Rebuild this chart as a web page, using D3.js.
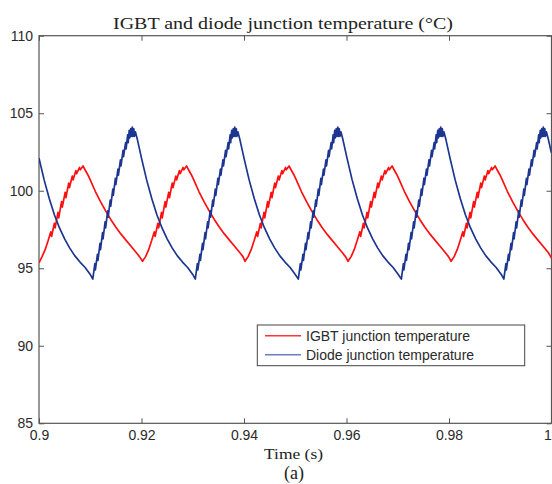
<!DOCTYPE html>
<html>
<head>
<meta charset="utf-8">
<script src="https://cdn.jsdelivr.net/npm/d3@7"></script>
<style>
  body { margin: 0; background: #fff; }
  #picture svg { display: block; }
</style>
</head>
<body>
<div id="picture"></div>
<script>
// values: [time (s), temperature (C)]
var igbtTemp = [
    [0.9000,95.35],[0.9006,95.75],[0.9012,96.2],[0.9018,96.8],[0.9023,97.35],[0.90245,97.05],[0.9030,97.9],[0.90315,97.6],[0.9037,98.6],[0.90385,98.25],[0.9044,99.3],[0.90455,98.95],[0.9051,99.9],[0.90525,99.55],[0.9058,100.5],[0.90595,100.2],[0.9065,100.95],[0.90665,100.7],[0.9072,101.3],[0.90735,101.1],[0.9079,101.5],[0.90805,101.35],[0.9086,101.6],[0.9089,101.4],[0.9095,101.05],[0.9100,100.7],[0.9110,99.95],[0.9120,99.3],[0.9130,98.7],[0.9140,98.15],[0.9150,97.65],[0.9160,97.2],[0.9170,96.8],[0.9180,96.4],[0.9190,96.0],[0.9196,95.75],
    [0.9202,95.45],[0.9208,95.75],[0.9214,96.2],[0.9220,96.8],[0.9225,97.35],[0.92265,97.05],[0.9232,97.9],[0.92335,97.6],[0.9239,98.6],[0.92405,98.25],[0.9246,99.3],[0.92475,98.95],[0.9253,99.9],[0.92545,99.55],[0.9260,100.5],[0.92615,100.2],[0.9267,100.95],[0.92685,100.7],[0.9274,101.3],[0.92755,101.1],[0.9281,101.5],[0.92825,101.35],[0.9288,101.6],[0.9291,101.4],[0.9297,101.05],[0.9302,100.7],[0.9312,99.95],[0.9322,99.3],[0.9332,98.7],[0.9342,98.15],[0.9352,97.65],[0.9362,97.2],[0.9372,96.8],[0.9382,96.4],[0.9392,96.0],[0.9398,95.75],
    [0.9402,95.45],[0.9408,95.75],[0.9414,96.2],[0.9420,96.8],[0.9425,97.35],[0.94265,97.05],[0.9432,97.9],[0.94335,97.6],[0.9439,98.6],[0.94405,98.25],[0.9446,99.3],[0.94475,98.95],[0.9453,99.9],[0.94545,99.55],[0.9460,100.5],[0.94615,100.2],[0.9467,100.95],[0.94685,100.7],[0.9474,101.3],[0.94755,101.1],[0.9481,101.5],[0.94825,101.35],[0.9488,101.6],[0.9491,101.4],[0.9497,101.05],[0.9502,100.7],[0.9512,99.95],[0.9522,99.3],[0.9532,98.7],[0.9542,98.15],[0.9552,97.65],[0.9562,97.2],[0.9572,96.8],[0.9582,96.4],[0.9592,96.0],[0.9598,95.75],
    [0.9603,95.45],[0.9609,95.75],[0.9615,96.2],[0.9621,96.8],[0.9626,97.35],[0.96275,97.05],[0.9633,97.9],[0.96345,97.6],[0.9640,98.6],[0.96415,98.25],[0.9647,99.3],[0.96485,98.95],[0.9654,99.9],[0.96555,99.55],[0.9661,100.5],[0.96625,100.2],[0.9668,100.95],[0.96695,100.7],[0.9675,101.3],[0.96765,101.1],[0.9682,101.5],[0.96835,101.35],[0.9689,101.6],[0.9692,101.4],[0.9698,101.05],[0.9703,100.7],[0.9713,99.95],[0.9723,99.3],[0.9733,98.7],[0.9743,98.15],[0.9753,97.65],[0.9763,97.2],[0.9773,96.8],[0.9783,96.4],[0.9793,96.0],[0.9799,95.75],
    [0.9804,95.45],[0.9810,95.75],[0.9816,96.2],[0.9822,96.8],[0.9827,97.35],[0.98285,97.05],[0.9834,97.9],[0.98355,97.6],[0.9841,98.6],[0.98425,98.25],[0.9848,99.3],[0.98495,98.95],[0.9855,99.9],[0.98565,99.55],[0.9862,100.5],[0.98635,100.2],[0.9869,100.95],[0.98705,100.7],[0.9876,101.3],[0.98775,101.1],[0.9883,101.5],[0.98845,101.35],[0.9890,101.6],[0.9893,101.4],[0.9899,101.05],[0.9904,100.7],[0.9914,99.95],[0.9924,99.3],[0.9934,98.7],[0.9944,98.15],[0.9954,97.65],[0.9964,97.2],[0.9974,96.8],[0.9984,96.4],[0.9994,96.0],[1.0000,95.65]
];

var diodeTemp = [
    [0.9000,102.1],[0.9010,100.7],[0.9020,99.5],[0.9030,98.45],[0.9040,97.6],[0.9050,96.9],[0.9060,96.3],[0.9070,95.8],[0.9080,95.4],[0.9090,95.05],[0.9100,94.6],
    [0.9105,94.3],[0.9109,95.3],[0.9110,94.9],[0.9114,95.9],[0.9115,95.5],[0.9119,96.6],[0.9120,96.2],[0.9124,97.3],[0.9125,96.9],[0.9129,98.0],[0.9130,97.6],[0.9134,98.7],[0.9135,98.3],[0.9139,99.4],[0.9140,99.0],[0.9144,100.1],[0.9145,99.7],[0.9149,100.8],[0.9150,100.4],[0.9154,101.4],[0.9155,101.0],[0.9159,102.0],[0.9160,101.6],[0.9164,102.6],[0.9165,102.2],[0.9169,103.1],[0.9170,102.7],[0.9173,103.6],[0.9174,103.1],[0.9176,103.9],[0.9177,103.4],[0.9179,104.0],[0.9180,103.5],[0.9182,104.1],[0.9183,103.5],[0.9185,104.0],[0.9186,103.5],[0.9188,103.8],[0.9192,103.3],[0.9196,102.7],[0.9200,102.1],[0.9210,100.7],[0.9220,99.5],[0.9230,98.45],[0.9240,97.6],[0.9250,96.9],[0.9260,96.3],[0.9270,95.8],[0.9280,95.4],[0.9290,95.05],[0.9300,94.6],
    [0.9305,94.3],[0.9309,95.3],[0.9310,94.9],[0.9314,95.9],[0.9315,95.5],[0.9319,96.6],[0.9320,96.2],[0.9324,97.3],[0.9325,96.9],[0.9329,98.0],[0.9330,97.6],[0.9334,98.7],[0.9335,98.3],[0.9339,99.4],[0.9340,99.0],[0.9344,100.1],[0.9345,99.7],[0.9349,100.8],[0.9350,100.4],[0.9354,101.4],[0.9355,101.0],[0.9359,102.0],[0.9360,101.6],[0.9364,102.6],[0.9365,102.2],[0.9369,103.1],[0.9370,102.7],[0.9373,103.6],[0.9374,103.1],[0.9376,103.9],[0.9377,103.4],[0.9379,104.0],[0.9380,103.5],[0.9382,104.1],[0.9383,103.5],[0.9385,104.0],[0.9386,103.5],[0.9388,103.8],[0.9392,103.3],[0.9396,102.7],[0.9400,102.1],[0.9410,100.7],[0.9420,99.5],[0.9430,98.45],[0.9440,97.6],[0.9450,96.9],[0.9460,96.3],[0.9470,95.8],[0.9480,95.4],[0.9490,95.05],[0.9500,94.6],
    [0.9506,94.3],[0.9510,95.3],[0.9511,94.9],[0.9515,95.9],[0.9516,95.5],[0.9520,96.6],[0.9521,96.2],[0.9525,97.3],[0.9526,96.9],[0.9530,98.0],[0.9531,97.6],[0.9535,98.7],[0.9536,98.3],[0.9540,99.4],[0.9541,99.0],[0.9545,100.1],[0.9546,99.7],[0.9550,100.8],[0.9551,100.4],[0.9555,101.4],[0.9556,101.0],[0.9560,102.0],[0.9561,101.6],[0.9565,102.6],[0.9566,102.2],[0.9570,103.1],[0.9571,102.7],[0.9574,103.6],[0.9575,103.1],[0.9577,103.9],[0.9578,103.4],[0.9580,104.0],[0.9581,103.5],[0.9583,104.1],[0.9584,103.5],[0.9586,104.0],[0.9587,103.5],[0.9589,103.8],[0.9593,103.3],[0.9597,102.7],[0.9601,102.1],[0.9611,100.7],[0.9621,99.5],[0.9631,98.45],[0.9641,97.6],[0.9651,96.9],[0.9661,96.3],[0.9671,95.8],[0.9681,95.4],[0.9691,95.05],[0.9701,94.6],
    [0.9707,94.3],[0.9711,95.3],[0.9712,94.9],[0.9716,95.9],[0.9717,95.5],[0.9721,96.6],[0.9722,96.2],[0.9726,97.3],[0.9727,96.9],[0.9731,98.0],[0.9732,97.6],[0.9736,98.7],[0.9737,98.3],[0.9741,99.4],[0.9742,99.0],[0.9746,100.1],[0.9747,99.7],[0.9751,100.8],[0.9752,100.4],[0.9756,101.4],[0.9757,101.0],[0.9761,102.0],[0.9762,101.6],[0.9766,102.6],[0.9767,102.2],[0.9771,103.1],[0.9772,102.7],[0.9775,103.6],[0.9776,103.1],[0.9778,103.9],[0.9779,103.4],[0.9781,104.0],[0.9782,103.5],[0.9784,104.1],[0.9785,103.5],[0.9787,104.0],[0.9788,103.5],[0.9790,103.8],[0.9794,103.3],[0.9798,102.7],[0.9802,102.1],[0.9812,100.7],[0.9822,99.5],[0.9832,98.45],[0.9842,97.6],[0.9852,96.9],[0.9862,96.3],[0.9872,95.8],[0.9882,95.4],[0.9892,95.05],[0.9902,94.6],
    [0.9907,94.3],[0.9911,95.3],[0.9912,94.9],[0.9916,95.9],[0.9917,95.5],[0.9921,96.6],[0.9922,96.2],[0.9926,97.3],[0.9927,96.9],[0.9931,98.0],[0.9932,97.6],[0.9936,98.7],[0.9937,98.3],[0.9941,99.4],[0.9942,99.0],[0.9946,100.1],[0.9947,99.7],[0.9951,100.8],[0.9952,100.4],[0.9956,101.4],[0.9957,101.0],[0.9961,102.0],[0.9962,101.6],[0.9966,102.6],[0.9967,102.2],[0.9971,103.1],[0.9972,102.7],[0.9975,103.6],[0.9976,103.1],[0.9978,103.9],[0.9979,103.4],[0.9981,104.0],[0.9982,103.5],[0.9984,104.1],[0.9985,103.5],[0.9987,104.0],[0.9988,103.5],[0.9990,103.8],[0.9994,103.3],[0.9998,102.7],[1.0000,102.45]
];

var xTicks = [0.9, 0.92, 0.94, 0.96, 0.98, 1];
var xTickLabels = ["0.9", "0.92", "0.94", "0.96", "0.98", "1"];
var yTicks = [85, 90, 95, 100, 105, 110];
var seriesNames = ["IGBT junction temperature", "Diode junction temperature"];

function draw() {
    "use strict";

    var width = 552, height = 484;
    var left = 39, right = 551.5, top = 35.7, bottom = 423.3;
    var red = "#ff1010", blue = "#1c3590", axisColor = "#555";

    var svg = d3.select("#picture")
        .append("svg")
        .attr("width", width)
        .attr("height", height);

    var x_scale = d3.scaleLinear().domain([0.9, 1]).range([left, right]);
    var y_scale = d3.scaleLinear().domain([85, 110]).range([bottom, top]);

    svg.append("defs").append("clipPath").attr("id", "plotclip")
        .append("rect")
        .attr("x", left).attr("y", top)
        .attr("width", right - left).attr("height", bottom - top);

    // axes with inward ticks
    var x_axis = d3.axisBottom(x_scale).tickValues(xTicks)
        .tickFormat(function (d, i) { return xTickLabels[i]; })
        .tickSizeInner(-5).tickSizeOuter(0).tickPadding(7);
    var gx = svg.append("g")
        .attr("class", "x_axis")
        .attr("transform", "translate(0, " + bottom + ")")
        .call(x_axis);
    // last label sits on the window edge, nudge it inside
    gx.selectAll(".tick text").filter(function (d) { return d === 1; }).attr("dx", -4);

    var y_axis = d3.axisLeft(y_scale).tickValues(yTicks)
        .tickSizeInner(-5).tickSizeOuter(0).tickPadding(6);
    svg.append("g")
        .attr("class", "y_axis")
        .attr("transform", "translate(" + left + ", 0)")
        .call(y_axis);

    svg.append("g")
        .attr("transform", "translate(0, " + top + ")")
        .call(d3.axisTop(x_scale).tickValues(xTicks).tickFormat("").tickSizeInner(-5).tickSizeOuter(0));
    svg.append("g")
        .attr("transform", "translate(" + right + ", 0)")
        .call(d3.axisRight(y_scale).tickValues(yTicks).tickFormat("").tickSizeInner(-5).tickSizeOuter(0));

    svg.selectAll(".domain").remove();
    svg.selectAll(".tick line").attr("stroke", axisColor);
    svg.selectAll(".tick text")
        .attr("fill", "#2a2a2a")
        .style("font-family", "'Liberation Sans', Arial, sans-serif")
        .style("font-size", "14px");

    svg.append("rect")
        .attr("x", left).attr("y", top)
        .attr("width", right - left).attr("height", bottom - top)
        .attr("fill", "none")
        .attr("stroke", axisColor)
        .attr("stroke-width", 1.2);

    var line = d3.line()
        .x(function (d) { return x_scale(d[0]); })
        .y(function (d) { return y_scale(d[1]); });

    var plot = svg.append("g").attr("clip-path", "url(#plotclip)");
    plot.append("path")
        .attr("d", line(igbtTemp))
        .attr("fill", "none")
        .attr("stroke", red)
        .attr("stroke-width", 1.7)
        .attr("stroke-linejoin", "round");
    plot.append("path")
        .attr("d", line(diodeTemp))
        .attr("fill", "none")
        .attr("stroke", blue)
        .attr("stroke-width", 1.7)
        .attr("stroke-linejoin", "round");

    // titles
    var serif = "'Liberation Serif', 'Times New Roman', serif";
    svg.append("text")
        .text("IGBT and diode junction temperature (\u00B0C)")
        .attr("x", 113).attr("y", 28.5)
        .attr("textLength", 340)
        .attr("lengthAdjust", "spacingAndGlyphs")
        .style("font-family", serif).style("font-size", "17px").attr("fill", "#222");
    svg.append("text")
        .text("Time (s)")
        .attr("x", 264).attr("y", 458.5)
        .attr("textLength", 59)
        .attr("lengthAdjust", "spacingAndGlyphs")
        .style("font-family", serif).style("font-size", "15px").attr("fill", "#222");
    svg.append("text")
        .text("(a)")
        .attr("x", 294).attr("y", 479)
        .attr("text-anchor", "middle")
        .style("font-family", serif).style("font-size", "18px").attr("fill", "#222");

    // legend
    var legend = svg.append("g");
    legend.append("rect")
        .attr("x", 257.3).attr("y", 325)
        .attr("width", 267.4).attr("height", 40.7)
        .attr("fill", "#fff")
        .attr("stroke", "#444")
        .attr("stroke-width", 1);
    var legendColors = ["#ff3535", "#6f7fc2"];
    var legendY = [335.7, 354.8];
    seriesNames.forEach(function (name, i) {
        legend.append("line")
            .attr("x1", 265).attr("x2", 301)
            .attr("y1", legendY[i]).attr("y2", legendY[i])
            .attr("stroke", legendColors[i])
            .attr("stroke-width", 1.4);
        legend.append("text")
            .text(name)
            .attr("x", 306).attr("y", legendY[i] + 5.5)
            .attr("fill", "#2a2a2a")
            .style("font-family", "'Liberation Sans', Arial, sans-serif")
            .style("font-size", "14px");
    });
}

draw();
</script>
</body>
</html>
